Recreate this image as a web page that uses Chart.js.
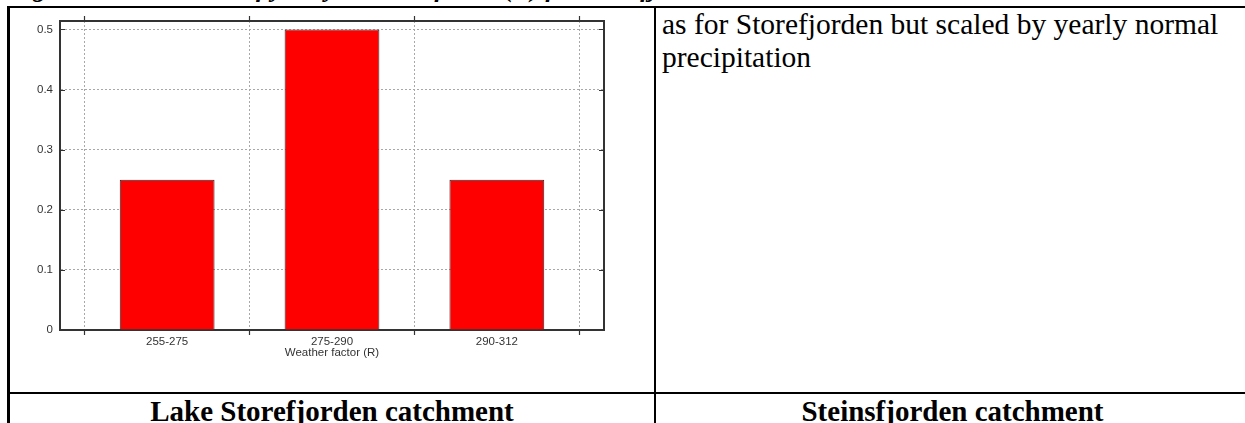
<!DOCTYPE html>
<html>
<head>
<meta charset="utf-8">
<script src="https://cdn.jsdelivr.net/npm/chart.js@4.4.1/dist/chart.umd.min.js"></script>
<style>
  html, body { margin: 0; padding: 0; background: #fff; overflow: hidden; }
  body { width: 1245px; height: 423px; position: relative; color: #000; }
  .rule { position: absolute; background: #000; }
  #caption { position: absolute; left: 9px; top: -24px; font: italic bold 26px/26px 'Liberation Serif', 'Times New Roman', serif; white-space: nowrap; }
  #note { position: absolute; left: 662px; top: 8px; width: 580px; font: 29.5px/33px 'Liberation Serif', 'Times New Roman', serif; }
  .cellhead { position: absolute; top: 395px; font: bold 29px/33px 'Liberation Serif', 'Times New Roman', serif; text-align: center; white-space: nowrap; }
  #chartBox { position: absolute; left: 0; top: 0; width: 655px; height: 392px; }
</style>
</head>
<body>
<div id="caption">Figure 4. Illustration of yearly weather factor (R) for Storefjorden</div>

<div id="chartBox"><canvas id="chart" width="655" height="392"></canvas></div>

<div id="note">as for Storefjorden but scaled by yearly normal precipitation</div>
<div class="cellhead" style="left:10px;width:644px;">Lake Storefjorden catchment</div>
<div class="cellhead" style="left:656px;width:593px;">Steinsfjorden catchment</div>

<!-- table rules -->
<div class="rule" style="left:7px;top:6px;width:1238px;height:2px;"></div>
<div class="rule" style="left:7px;top:6px;width:3px;height:417px;"></div>
<div class="rule" style="left:654px;top:6px;width:2px;height:417px;"></div>
<div class="rule" style="left:7px;top:392px;width:1238px;height:2px;"></div>

<script>
// Weather factor classes and their relative frequency
const categories = ['255-275', '275-290', '290-312'];
const frequency = [0.25, 0.5, 0.25];
const yTicks = [0, 0.1, 0.2, 0.3, 0.4, 0.5];
const xTitle = 'Weather factor (R)';

// classes sit at 1, 2, 3 on a linear axis; grid lines mark the class boundaries
const positions = categories.map((c, i) => i + 1);
const boundaries = [0.5].concat(positions.map(p => p + 0.5));
const xTickValues = positions.concat(boundaries).sort((a, b) => a - b);
const isBoundary = c => !!(c && c.tick && boundaries.includes(c.tick.value));

const tickFont = { family: "'Liberation Sans', Arial, sans-serif", size: 11.5 };
const axisColor = '#333333';
const gridColor = '#a8a8a8';
const clear = 'rgba(0,0,0,0)';
const X_MIN = 0.35, X_MAX = 3.65, Y_MAX = 0.514;

const setXTicks = s => { s.ticks = xTickValues.map(v => ({ value: v })); };
const setYTicks = s => { s.ticks = yTicks.map(v => ({ value: v })); };

// short inward tick marks on both vertical sides of the frame
const inwardTicks = {
  id: 'inwardTicks',
  afterDatasetsDraw(chart) {
    const { ctx, chartArea: a } = chart;
    const y = chart.scales.y;
    ctx.save();
    ctx.strokeStyle = axisColor;
    ctx.lineWidth = 1.2;
    y.ticks.forEach(t => {
      const py = Math.round(y.getPixelForValue(t.value)) + 0.5;
      ctx.beginPath();
      ctx.moveTo(a.left, py); ctx.lineTo(a.left + 5, py);
      ctx.moveTo(a.right, py); ctx.lineTo(a.right - 5, py);
      ctx.stroke();
    });
    ctx.restore();
  }
};

new Chart(document.getElementById('chart'), {
  type: 'bar',
  data: {
    datasets: [{
      data: positions.map((p, i) => ({ x: p, y: frequency[i] })),
      backgroundColor: '#ff0000',
      borderColor: '#2a2a2a',
      borderWidth: 1,
      categoryPercentage: 1,
      barPercentage: 1.15,
      xAxisID: 'x',
      yAxisID: 'y'
    }]
  },
  options: {
    responsive: false,
    animation: false,
    devicePixelRatio: 1,
    layout: { padding: 0 },
    plugins: { legend: { display: false }, tooltip: { enabled: false } },
    scales: {
      x: {
        type: 'linear', position: 'bottom', min: X_MIN, max: X_MAX, offset: false,
        afterBuildTicks: setXTicks,
        afterFit: s => { s.height = 62; },
        grid: {
          offset: false,
          color: c => isBoundary(c) ? gridColor : clear,
          tickColor: c => isBoundary(c) ? axisColor : clear,
          lineWidth: 1, tickLength: 5, tickWidth: 1.2
        },
        border: { color: axisColor, width: 2, dash: [2, 2] },
        ticks: {
          autoSkip: false, maxRotation: 0, padding: 0, color: axisColor, font: tickFont,
          callback: v => Number.isInteger(v) ? categories[v - 1] : ''
        },
        title: { display: true, text: xTitle, color: axisColor, font: tickFont, padding: { top: 0, bottom: 32 } }
      },
      xTop: {
        type: 'linear', position: 'top', min: X_MIN, max: X_MAX, offset: false,
        afterBuildTicks: setXTicks,
        afterFit: s => { s.height = 21; },
        grid: {
          offset: false, drawOnChartArea: false, tickLength: 5, tickWidth: 1.2,
          tickColor: c => isBoundary(c) ? axisColor : clear
        },
        border: { color: axisColor, width: 2 },
        ticks: { display: false }
      },
      y: {
        type: 'linear', position: 'left', min: 0, max: Y_MAX,
        afterBuildTicks: setYTicks,
        afterFit: s => { s.width = 60; },
        grid: { color: gridColor, lineWidth: 1, drawTicks: false },
        border: { color: axisColor, width: 2, dash: [2, 2] },
        ticks: { padding: 7, color: axisColor, font: tickFont, callback: v => String(v) }
      },
      yRight: {
        type: 'linear', position: 'right', min: 0, max: Y_MAX,
        afterBuildTicks: setYTicks,
        afterFit: s => { s.width = 51; },
        grid: { drawOnChartArea: false, drawTicks: false },
        border: { color: axisColor, width: 2 },
        ticks: { display: false }
      }
    }
  },
  plugins: [inwardTicks]
});
</script>
</body>
</html>
